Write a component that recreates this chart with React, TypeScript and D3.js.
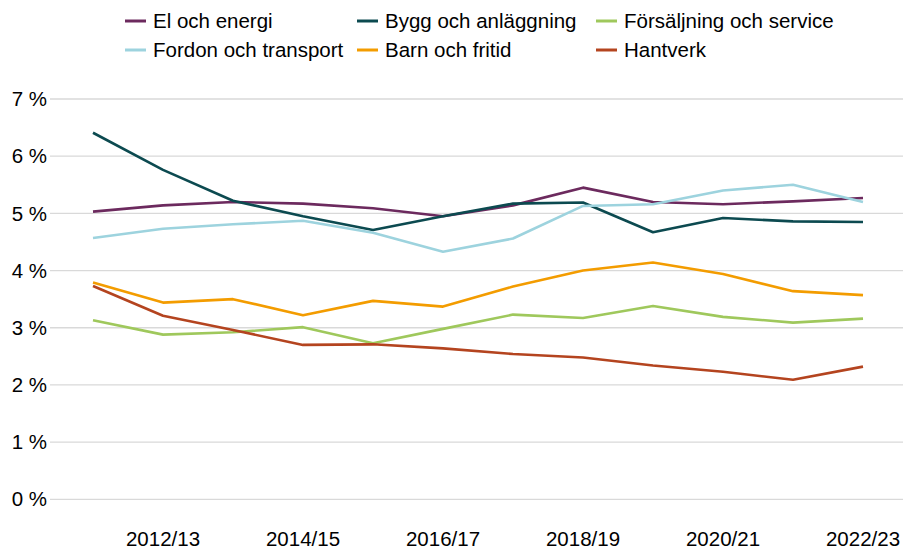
import React from "react";
import * as d3 from "d3";

const years = ["2011/12","2012/13","2013/14","2014/15","2015/16","2016/17","2017/18","2018/19","2019/20","2020/21","2021/22","2022/23"];
const elOchEnergi = [5.03,5.14,5.20,5.17,5.09,4.95,5.14,5.45,5.20,5.16,5.21,5.27];
const byggOchAnlaggning = [6.41,5.76,5.22,4.95,4.71,4.95,5.17,5.19,4.67,4.92,4.86,4.85];
const forsaljningOchService = [3.13,2.88,2.92,3.01,2.73,2.98,3.23,3.17,3.38,3.19,3.09,3.16];
const fordonOchTransport = [4.57,4.73,4.81,4.87,4.66,4.33,4.56,5.13,5.16,5.40,5.50,5.20];
const barnOchFritid = [3.79,3.44,3.50,3.22,3.47,3.37,3.72,4.00,4.14,3.94,3.64,3.57];
const hantverk = [3.73,3.21,2.96,2.70,2.71,2.64,2.54,2.48,2.34,2.23,2.09,2.32];
const yTicks = [0,1,2,3,4,5,6,7];
const xLabels = ["2012/13","2014/15","2016/17","2018/19","2020/21","2022/23"];

const series = [
  { name: "El och energi", values: elOchEnergi, color: "#6c2a5e" },
  { name: "Bygg och anläggning", values: byggOchAnlaggning, color: "#0c4a50" },
  { name: "Försäljning och service", values: forsaljningOchService, color: "#9fc85c" },
  { name: "Fordon och transport", values: fordonOchTransport, color: "#9dd3de" },
  { name: "Barn och fritid", values: barnOchFritid, color: "#f39c00" },
  { name: "Hantverk", values: hantverk, color: "#b4441f" },
];

const W = 903, H = 550;
const font = "'Liberation Sans', Arial, sans-serif";
const fs = 20.5;

export default function App() {
  const x = d3.scalePoint<string>().domain(years).range([93, 863]);
  const y = d3.scaleLinear().domain([0, 7]).range([499.3, 99]);
  const line = d3.line<number>().x((_, i) => x(years[i]) as number).y(d => y(d));
  const legendCols = [125, 357, 596];
  const legendRows = [21, 50];
  return (
    <svg width={W} height={H} style={{ position: "absolute", left: 0, top: 0 }} fontFamily={font}>
      <rect width={W} height={H} fill="#fff" />
      {yTicks.map(t => (
        <g key={t}>
          <line x1={50} x2={903} y1={y(t)} y2={y(t)} stroke="#d9d9d9" strokeWidth={1.3} />
          <text x={47} y={y(t)} dy="0.35em" textAnchor="end" fontSize={fs} fill="#000">{t} %</text>
        </g>
      ))}
      {xLabels.map(l => (
        <text key={l} x={x(l) as number} y={546} textAnchor="middle" fontSize={fs} fill="#000">{l}</text>
      ))}
      {series.map(s => (
        <path key={s.name} d={line(s.values) || ""} fill="none" stroke={s.color} strokeWidth={2.6} strokeLinejoin="round" />
      ))}
      {series.map((s, i) => {
        const cx = legendCols[i % 3];
        const cy = legendRows[Math.floor(i / 3)];
        return (
          <g key={s.name}>
            <line x1={cx} x2={cx + 21} y1={cy} y2={cy} stroke={s.color} strokeWidth={3} />
            <text x={cx + 28} y={cy} dy="0.35em" fontSize={fs} fill="#000">{s.name}</text>
          </g>
        );
      })}
    </svg>
  );
}
